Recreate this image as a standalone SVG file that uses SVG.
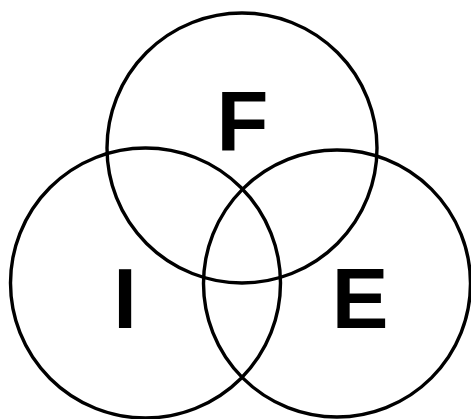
<svg xmlns="http://www.w3.org/2000/svg" width="471" height="419" viewBox="0 0 471 419">
<style>
.c{fill:none;stroke:#000;stroke-width:3.4}
.t{font-family:"Liberation Sans",Arial,sans-serif;font-weight:bold;font-size:85px;fill:#000;text-anchor:middle}
</style>
<rect width="471" height="419" fill="#fff"/>
<g id="F">
<circle class="c" cx="242" cy="148" r="135"/>
<text class="t" x="242.5" y="150.5">F</text>
</g>
<g id="I">
<circle class="c" cx="145.5" cy="283" r="135"/>
<text class="t" x="125" y="328">I</text>
</g>
<g id="E">
<circle class="c" cx="337" cy="283.5" r="133.5"/>
<text class="t" x="360" y="327.5">E</text>
</g>
<g id="connectors"/>
</svg>
